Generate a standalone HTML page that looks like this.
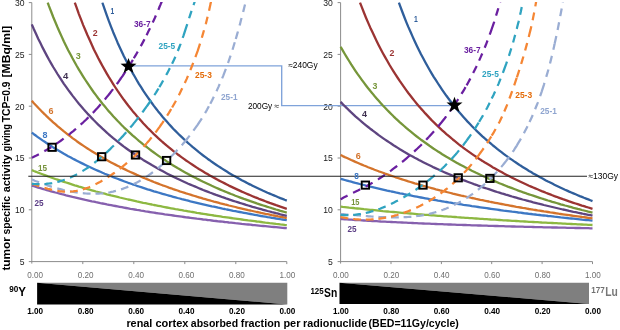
<!DOCTYPE html>
<html><head><meta charset="utf-8"><title>chart</title><style>html,body{margin:0;padding:0;background:#fff}body{width:620px;height:330px;overflow:hidden}</style></head><body>
<svg width="620" height="330" viewBox="0 0 620 330" style="display:block;font-family:'Liberation Sans',sans-serif;will-change:transform;-webkit-font-smoothing:antialiased">
<rect width="620" height="330" fill="#fff"/>
<defs><clipPath id="cp"><rect x="0" y="2" width="620" height="262"/></clipPath></defs>
<path d="M31.8,2.6 V263.6 M28.8,261.6 H286.8" stroke="#8c8c8c" stroke-width="1" fill="none"/>
<path d="M28.8,2.6 H31.8" stroke="#8c8c8c" stroke-width="1"/>
<path d="M28.8,54.4 H31.8" stroke="#8c8c8c" stroke-width="1"/>
<path d="M28.8,106.2 H31.8" stroke="#8c8c8c" stroke-width="1"/>
<path d="M28.8,158.0 H31.8" stroke="#8c8c8c" stroke-width="1"/>
<path d="M28.8,209.8 H31.8" stroke="#8c8c8c" stroke-width="1"/>
<path d="M82.8,261.6 V264.1" stroke="#8c8c8c" stroke-width="1"/>
<path d="M133.8,261.6 V264.1" stroke="#8c8c8c" stroke-width="1"/>
<path d="M184.8,261.6 V264.1" stroke="#8c8c8c" stroke-width="1"/>
<path d="M235.8,261.6 V264.1" stroke="#8c8c8c" stroke-width="1"/>
<path d="M286.8,261.6 V264.1" stroke="#8c8c8c" stroke-width="1"/>
<text x="24.6" y="6.0" font-size="8.6" text-anchor="end" fill="#1a1a1a">30</text>
<text x="24.6" y="57.8" font-size="8.6" text-anchor="end" fill="#1a1a1a">25</text>
<text x="24.6" y="109.6" font-size="8.6" text-anchor="end" fill="#1a1a1a">20</text>
<text x="24.6" y="161.4" font-size="8.6" text-anchor="end" fill="#1a1a1a">15</text>
<text x="24.6" y="213.2" font-size="8.6" text-anchor="end" fill="#1a1a1a">10</text>
<text x="24.6" y="265.0" font-size="8.6" text-anchor="end" fill="#1a1a1a">5</text>
<path d="M340.6,2.6 V263.6 M337.6,261.6 H592.5" stroke="#8c8c8c" stroke-width="1" fill="none"/>
<path d="M337.6,2.6 H340.6" stroke="#8c8c8c" stroke-width="1"/>
<path d="M337.6,54.4 H340.6" stroke="#8c8c8c" stroke-width="1"/>
<path d="M337.6,106.2 H340.6" stroke="#8c8c8c" stroke-width="1"/>
<path d="M337.6,158.0 H340.6" stroke="#8c8c8c" stroke-width="1"/>
<path d="M337.6,209.8 H340.6" stroke="#8c8c8c" stroke-width="1"/>
<path d="M391.0,261.6 V264.1" stroke="#8c8c8c" stroke-width="1"/>
<path d="M441.4,261.6 V264.1" stroke="#8c8c8c" stroke-width="1"/>
<path d="M491.7,261.6 V264.1" stroke="#8c8c8c" stroke-width="1"/>
<path d="M542.1,261.6 V264.1" stroke="#8c8c8c" stroke-width="1"/>
<path d="M592.5,261.6 V264.1" stroke="#8c8c8c" stroke-width="1"/>
<text x="332.7" y="6.0" font-size="8.6" text-anchor="end" fill="#1a1a1a">30</text>
<text x="332.7" y="57.8" font-size="8.6" text-anchor="end" fill="#1a1a1a">25</text>
<text x="332.7" y="109.6" font-size="8.6" text-anchor="end" fill="#1a1a1a">20</text>
<text x="332.7" y="161.4" font-size="8.6" text-anchor="end" fill="#1a1a1a">15</text>
<text x="332.7" y="213.2" font-size="8.6" text-anchor="end" fill="#1a1a1a">10</text>
<text x="332.7" y="265.0" font-size="8.6" text-anchor="end" fill="#1a1a1a">5</text>
<text x="35.2" y="278.4" font-size="8.6" text-anchor="middle" fill="#6f6f6f" textLength="15.8" lengthAdjust="spacingAndGlyphs">0.00</text>
<text x="340.9" y="278.4" font-size="8.6" text-anchor="middle" fill="#6f6f6f" textLength="15.8" lengthAdjust="spacingAndGlyphs">0.00</text>
<text x="85.6" y="278.4" font-size="8.6" text-anchor="middle" fill="#6f6f6f" textLength="15.8" lengthAdjust="spacingAndGlyphs">0.20</text>
<text x="391.3" y="278.4" font-size="8.6" text-anchor="middle" fill="#6f6f6f" textLength="15.8" lengthAdjust="spacingAndGlyphs">0.20</text>
<text x="136.1" y="278.4" font-size="8.6" text-anchor="middle" fill="#6f6f6f" textLength="15.8" lengthAdjust="spacingAndGlyphs">0.40</text>
<text x="441.7" y="278.4" font-size="8.6" text-anchor="middle" fill="#6f6f6f" textLength="15.8" lengthAdjust="spacingAndGlyphs">0.40</text>
<text x="186.5" y="278.4" font-size="8.6" text-anchor="middle" fill="#6f6f6f" textLength="15.8" lengthAdjust="spacingAndGlyphs">0.60</text>
<text x="492.2" y="278.4" font-size="8.6" text-anchor="middle" fill="#6f6f6f" textLength="15.8" lengthAdjust="spacingAndGlyphs">0.60</text>
<text x="237.0" y="278.4" font-size="8.6" text-anchor="middle" fill="#6f6f6f" textLength="15.8" lengthAdjust="spacingAndGlyphs">0.80</text>
<text x="542.6" y="278.4" font-size="8.6" text-anchor="middle" fill="#6f6f6f" textLength="15.8" lengthAdjust="spacingAndGlyphs">0.80</text>
<text x="287.4" y="278.4" font-size="8.6" text-anchor="middle" fill="#6f6f6f" textLength="15.8" lengthAdjust="spacingAndGlyphs">1.00</text>
<text x="593.0" y="278.4" font-size="8.6" text-anchor="middle" fill="#6f6f6f" textLength="15.8" lengthAdjust="spacingAndGlyphs">1.00</text>
<text x="35.2" y="314.1" font-size="8.8" font-weight="bold" text-anchor="middle" fill="#000" textLength="15.9" lengthAdjust="spacingAndGlyphs">1.00</text>
<text x="340.9" y="314.1" font-size="8.8" font-weight="bold" text-anchor="middle" fill="#000" textLength="15.9" lengthAdjust="spacingAndGlyphs">1.00</text>
<text x="85.6" y="314.1" font-size="8.8" font-weight="bold" text-anchor="middle" fill="#000" textLength="15.9" lengthAdjust="spacingAndGlyphs">0.80</text>
<text x="391.3" y="314.1" font-size="8.8" font-weight="bold" text-anchor="middle" fill="#000" textLength="15.9" lengthAdjust="spacingAndGlyphs">0.80</text>
<text x="136.1" y="314.1" font-size="8.8" font-weight="bold" text-anchor="middle" fill="#000" textLength="15.9" lengthAdjust="spacingAndGlyphs">0.60</text>
<text x="441.7" y="314.1" font-size="8.8" font-weight="bold" text-anchor="middle" fill="#000" textLength="15.9" lengthAdjust="spacingAndGlyphs">0.60</text>
<text x="186.5" y="314.1" font-size="8.8" font-weight="bold" text-anchor="middle" fill="#000" textLength="15.9" lengthAdjust="spacingAndGlyphs">0.40</text>
<text x="492.2" y="314.1" font-size="8.8" font-weight="bold" text-anchor="middle" fill="#000" textLength="15.9" lengthAdjust="spacingAndGlyphs">0.40</text>
<text x="237.0" y="314.1" font-size="8.8" font-weight="bold" text-anchor="middle" fill="#000" textLength="15.9" lengthAdjust="spacingAndGlyphs">0.20</text>
<text x="542.6" y="314.1" font-size="8.8" font-weight="bold" text-anchor="middle" fill="#000" textLength="15.9" lengthAdjust="spacingAndGlyphs">0.20</text>
<text x="287.4" y="314.1" font-size="8.8" font-weight="bold" text-anchor="middle" fill="#000" textLength="15.9" lengthAdjust="spacingAndGlyphs">0.00</text>
<text x="593.0" y="314.1" font-size="8.8" font-weight="bold" text-anchor="middle" fill="#000" textLength="15.9" lengthAdjust="spacingAndGlyphs">0.00</text>
<path d="M128.5,65.9 H281.7 V105.6 H454.5" stroke="#7fa3da" stroke-width="1.35" fill="none"/>
<path d="M31.8,185.6 L33.9,186.2 L36.1,186.9 L38.2,187.6 L40.4,188.2 L42.5,188.8 L44.7,189.5 L46.8,190.1 L48.9,190.7 L51.1,191.3 L53.2,191.9 L55.4,192.5 L57.5,193.0 L59.7,193.6 L61.8,194.2 L63.9,194.7 L66.1,195.3 L68.2,195.8 L70.4,196.3 L72.5,196.9 L74.7,197.4 L76.8,197.9 L78.9,198.4 L81.1,198.9 L83.2,199.4 L85.4,199.9 L87.5,200.3 L89.7,200.8 L91.8,201.3 L93.9,201.7 L96.1,202.2 L98.2,202.6 L100.4,203.1 L102.5,203.5 L104.7,203.9 L106.8,204.4 L108.9,204.8 L111.1,205.2 L113.2,205.6 L115.4,206.0 L117.5,206.4 L119.7,206.8 L121.8,207.2 L123.9,207.6 L126.1,208.0 L128.2,208.4 L130.4,208.8 L132.5,209.1 L134.7,209.5 L136.8,209.9 L138.9,210.2 L141.1,210.6 L143.2,210.9 L145.4,211.3 L147.5,211.6 L149.7,212.0 L151.8,212.3 L153.9,212.6 L156.1,213.0 L158.2,213.3 L160.4,213.6 L162.5,213.9 L164.7,214.3 L166.8,214.6 L168.9,214.9 L171.1,215.2 L173.2,215.5 L175.4,215.8 L177.5,216.1 L179.7,216.4 L181.8,216.7 L183.9,217.0 L186.1,217.3 L188.2,217.5 L190.4,217.8 L192.5,218.1 L194.7,218.4 L196.8,218.7 L198.9,218.9 L201.1,219.2 L203.2,219.5 L205.4,219.7 L207.5,220.0 L209.7,220.2 L211.8,220.5 L213.9,220.8 L216.1,221.0 L218.2,221.3 L220.4,221.5 L222.5,221.7 L224.7,222.0 L226.8,222.2 L228.9,222.5 L231.1,222.7 L233.2,222.9 L235.4,223.2 L237.5,223.4 L239.7,223.6 L241.8,223.9 L243.9,224.1 L246.1,224.3 L248.2,224.5 L250.4,224.7 L252.5,225.0 L254.7,225.2 L256.8,225.4 L258.9,225.6 L261.1,225.8 L263.2,226.0 L265.4,226.2 L267.5,226.4 L269.7,226.6 L271.8,226.8 L273.9,227.0 L276.1,227.2 L278.2,227.4 L280.4,227.6 L282.5,227.8 L284.7,228.0 L286.8,228.2" stroke="#8660AE" stroke-width="2.3" fill="none" stroke-linejoin="round"/>
<path d="M31.8,170.1 L33.9,171.0 L36.1,171.8 L38.2,172.7 L40.4,173.5 L42.5,174.3 L44.7,175.1 L46.8,175.9 L48.9,176.7 L51.1,177.4 L53.2,178.2 L55.4,179.0 L57.5,179.7 L59.7,180.4 L61.8,181.1 L63.9,181.8 L66.1,182.5 L68.2,183.2 L70.4,183.9 L72.5,184.6 L74.7,185.3 L76.8,185.9 L78.9,186.6 L81.1,187.2 L83.2,187.8 L85.4,188.5 L87.5,189.1 L89.7,189.7 L91.8,190.3 L93.9,190.9 L96.1,191.5 L98.2,192.0 L100.4,192.6 L102.5,193.2 L104.7,193.7 L106.8,194.3 L108.9,194.8 L111.1,195.4 L113.2,195.9 L115.4,196.4 L117.5,196.9 L119.7,197.5 L121.8,198.0 L123.9,198.5 L126.1,199.0 L128.2,199.5 L130.4,199.9 L132.5,200.4 L134.7,200.9 L136.8,201.4 L138.9,201.8 L141.1,202.3 L143.2,202.8 L145.4,203.2 L147.5,203.7 L149.7,204.1 L151.8,204.5 L153.9,205.0 L156.1,205.4 L158.2,205.8 L160.4,206.2 L162.5,206.7 L164.7,207.1 L166.8,207.5 L168.9,207.9 L171.1,208.3 L173.2,208.7 L175.4,209.1 L177.5,209.4 L179.7,209.8 L181.8,210.2 L183.9,210.6 L186.1,210.9 L188.2,211.3 L190.4,211.7 L192.5,212.0 L194.7,212.4 L196.8,212.8 L198.9,213.1 L201.1,213.5 L203.2,213.8 L205.4,214.1 L207.5,214.5 L209.7,214.8 L211.8,215.1 L213.9,215.5 L216.1,215.8 L218.2,216.1 L220.4,216.4 L222.5,216.8 L224.7,217.1 L226.8,217.4 L228.9,217.7 L231.1,218.0 L233.2,218.3 L235.4,218.6 L237.5,218.9 L239.7,219.2 L241.8,219.5 L243.9,219.8 L246.1,220.1 L248.2,220.4 L250.4,220.6 L252.5,220.9 L254.7,221.2 L256.8,221.5 L258.9,221.7 L261.1,222.0 L263.2,222.3 L265.4,222.6 L267.5,222.8 L269.7,223.1 L271.8,223.3 L273.9,223.6 L276.1,223.9 L278.2,224.1 L280.4,224.4 L282.5,224.6 L284.7,224.9 L286.8,225.1" stroke="#8DB842" stroke-width="2.3" fill="none" stroke-linejoin="round"/>
<path d="M31.8,132.6 L33.9,134.2 L36.1,135.8 L38.2,137.4 L40.4,138.9 L42.5,140.4 L44.7,141.8 L46.8,143.2 L48.9,144.6 L51.1,146.0 L53.2,147.4 L55.4,148.7 L57.5,150.0 L59.7,151.3 L61.8,152.5 L63.9,153.8 L66.1,155.0 L68.2,156.2 L70.4,157.3 L72.5,158.5 L74.7,159.6 L76.8,160.7 L78.9,161.8 L81.1,162.9 L83.2,163.9 L85.4,165.0 L87.5,166.0 L89.7,167.0 L91.8,168.0 L93.9,169.0 L96.1,170.0 L98.2,170.9 L100.4,171.8 L102.5,172.8 L104.7,173.7 L106.8,174.5 L108.9,175.4 L111.1,176.3 L113.2,177.1 L115.4,178.0 L117.5,178.8 L119.7,179.6 L121.8,180.4 L123.9,181.2 L126.1,182.0 L128.2,182.8 L130.4,183.5 L132.5,184.3 L134.7,185.0 L136.8,185.8 L138.9,186.5 L141.1,187.2 L143.2,187.9 L145.4,188.6 L147.5,189.3 L149.7,189.9 L151.8,190.6 L153.9,191.3 L156.1,191.9 L158.2,192.5 L160.4,193.2 L162.5,193.8 L164.7,194.4 L166.8,195.0 L168.9,195.6 L171.1,196.2 L173.2,196.8 L175.4,197.4 L177.5,198.0 L179.7,198.5 L181.8,199.1 L183.9,199.6 L186.1,200.2 L188.2,200.7 L190.4,201.3 L192.5,201.8 L194.7,202.3 L196.8,202.8 L198.9,203.3 L201.1,203.8 L203.2,204.3 L205.4,204.8 L207.5,205.3 L209.7,205.8 L211.8,206.3 L213.9,206.7 L216.1,207.2 L218.2,207.7 L220.4,208.1 L222.5,208.6 L224.7,209.0 L226.8,209.5 L228.9,209.9 L231.1,210.3 L233.2,210.8 L235.4,211.2 L237.5,211.6 L239.7,212.0 L241.8,212.4 L243.9,212.8 L246.1,213.2 L248.2,213.6 L250.4,214.0 L252.5,214.4 L254.7,214.8 L256.8,215.2 L258.9,215.6 L261.1,216.0 L263.2,216.3 L265.4,216.7 L267.5,217.1 L269.7,217.4 L271.8,217.8 L273.9,218.1 L276.1,218.5 L278.2,218.8 L280.4,219.2 L282.5,219.5 L284.7,219.9 L286.8,220.2" stroke="#3D78C4" stroke-width="2.3" fill="none" stroke-linejoin="round"/>
<path d="M31.8,100.8 L33.9,103.2 L36.1,105.5 L38.2,107.8 L40.4,110.0 L42.5,112.2 L44.7,114.3 L46.8,116.4 L48.9,118.4 L51.1,120.4 L53.2,122.3 L55.4,124.2 L57.5,126.1 L59.7,127.9 L61.8,129.7 L63.9,131.4 L66.1,133.1 L68.2,134.8 L70.4,136.4 L72.5,138.1 L74.7,139.6 L76.8,141.2 L78.9,142.7 L81.1,144.2 L83.2,145.6 L85.4,147.1 L87.5,148.5 L89.7,149.9 L91.8,151.2 L93.9,152.5 L96.1,153.8 L98.2,155.1 L100.4,156.4 L102.5,157.6 L104.7,158.8 L106.8,160.0 L108.9,161.2 L111.1,162.4 L113.2,163.5 L115.4,164.6 L117.5,165.7 L119.7,166.8 L121.8,167.9 L123.9,168.9 L126.1,169.9 L128.2,171.0 L130.4,172.0 L132.5,172.9 L134.7,173.9 L136.8,174.9 L138.9,175.8 L141.1,176.7 L143.2,177.6 L145.4,178.5 L147.5,179.4 L149.7,180.3 L151.8,181.1 L153.9,182.0 L156.1,182.8 L158.2,183.6 L160.4,184.5 L162.5,185.3 L164.7,186.0 L166.8,186.8 L168.9,187.6 L171.1,188.3 L173.2,189.1 L175.4,189.8 L177.5,190.5 L179.7,191.3 L181.8,192.0 L183.9,192.7 L186.1,193.4 L188.2,194.0 L190.4,194.7 L192.5,195.4 L194.7,196.0 L196.8,196.7 L198.9,197.3 L201.1,197.9 L203.2,198.6 L205.4,199.2 L207.5,199.8 L209.7,200.4 L211.8,201.0 L213.9,201.6 L216.1,202.1 L218.2,202.7 L220.4,203.3 L222.5,203.8 L224.7,204.4 L226.8,204.9 L228.9,205.5 L231.1,206.0 L233.2,206.5 L235.4,207.0 L237.5,207.6 L239.7,208.1 L241.8,208.6 L243.9,209.1 L246.1,209.6 L248.2,210.1 L250.4,210.5 L252.5,211.0 L254.7,211.5 L256.8,212.0 L258.9,212.4 L261.1,212.9 L263.2,213.3 L265.4,213.8 L267.5,214.2 L269.7,214.6 L271.8,215.1 L273.9,215.5 L276.1,215.9 L278.2,216.4 L280.4,216.8 L282.5,217.2 L284.7,217.6 L286.8,218.0" stroke="#D4742C" stroke-width="2.3" fill="none" stroke-linejoin="round"/>
<path d="M31.8,24.4 L33.9,29.3 L36.1,34.1 L38.2,38.7 L40.4,43.1 L42.5,47.4 L44.7,51.6 L46.8,55.6 L48.9,59.5 L51.1,63.3 L53.2,67.0 L55.4,70.5 L57.5,74.0 L59.7,77.4 L61.8,80.6 L63.9,83.8 L66.1,86.9 L68.2,89.9 L70.4,92.8 L72.5,95.6 L74.7,98.4 L76.8,101.1 L78.9,103.7 L81.1,106.3 L83.2,108.8 L85.4,111.2 L87.5,113.6 L89.7,115.9 L91.8,118.1 L93.9,120.3 L96.1,122.5 L98.2,124.6 L100.4,126.7 L102.5,128.7 L104.7,130.7 L106.8,132.6 L108.9,134.5 L111.1,136.3 L113.2,138.1 L115.4,139.9 L117.5,141.6 L119.7,143.3 L121.8,145.0 L123.9,146.6 L126.1,148.2 L128.2,149.7 L130.4,151.3 L132.5,152.8 L134.7,154.2 L136.8,155.7 L138.9,157.1 L141.1,158.5 L143.2,159.9 L145.4,161.2 L147.5,162.5 L149.7,163.8 L151.8,165.1 L153.9,166.3 L156.1,167.6 L158.2,168.8 L160.4,169.9 L162.5,171.1 L164.7,172.3 L166.8,173.4 L168.9,174.5 L171.1,175.6 L173.2,176.6 L175.4,177.7 L177.5,178.7 L179.7,179.7 L181.8,180.7 L183.9,181.7 L186.1,182.7 L188.2,183.7 L190.4,184.6 L192.5,185.5 L194.7,186.4 L196.8,187.3 L198.9,188.2 L201.1,189.1 L203.2,190.0 L205.4,190.8 L207.5,191.6 L209.7,192.5 L211.8,193.3 L213.9,194.1 L216.1,194.9 L218.2,195.6 L220.4,196.4 L222.5,197.2 L224.7,197.9 L226.8,198.7 L228.9,199.4 L231.1,200.1 L233.2,200.8 L235.4,201.5 L237.5,202.2 L239.7,202.9 L241.8,203.5 L243.9,204.2 L246.1,204.9 L248.2,205.5 L250.4,206.1 L252.5,206.8 L254.7,207.4 L256.8,208.0 L258.9,208.6 L261.1,209.2 L263.2,209.8 L265.4,210.4 L267.5,211.0 L269.7,211.5 L271.8,212.1 L273.9,212.6 L276.1,213.2 L278.2,213.7 L280.4,214.3 L282.5,214.8 L284.7,215.3 L286.8,215.9" stroke="#5E4580" stroke-width="2.3" fill="none" stroke-linejoin="round"/>
<path d="M47.7,2.6 L48.9,5.9 L51.1,11.5 L53.2,17.0 L55.4,22.2 L57.5,27.3 L59.7,32.2 L61.8,36.9 L63.9,41.5 L66.1,45.9 L68.2,50.2 L70.4,54.3 L72.5,58.3 L74.7,62.2 L76.8,66.0 L78.9,69.6 L81.1,73.2 L83.2,76.6 L85.4,80.0 L87.5,83.2 L89.7,86.4 L91.8,89.5 L93.9,92.5 L96.1,95.4 L98.2,98.2 L100.4,101.0 L102.5,103.7 L104.7,106.3 L106.8,108.9 L108.9,111.4 L111.1,113.8 L113.2,116.2 L115.4,118.5 L117.5,120.8 L119.7,123.0 L121.8,125.2 L123.9,127.3 L126.1,129.3 L128.2,131.4 L130.4,133.3 L132.5,135.3 L134.7,137.2 L136.8,139.0 L138.9,140.8 L141.1,142.6 L143.2,144.3 L145.4,146.0 L147.5,147.7 L149.7,149.4 L151.8,151.0 L153.9,152.5 L156.1,154.1 L158.2,155.6 L160.4,157.1 L162.5,158.5 L164.7,159.9 L166.8,161.4 L168.9,162.7 L171.1,164.1 L173.2,165.4 L175.4,166.7 L177.5,168.0 L179.7,169.2 L181.8,170.5 L183.9,171.7 L186.1,172.9 L188.2,174.1 L190.4,175.2 L192.5,176.4 L194.7,177.5 L196.8,178.6 L198.9,179.6 L201.1,180.7 L203.2,181.8 L205.4,182.8 L207.5,183.8 L209.7,184.8 L211.8,185.8 L213.9,186.7 L216.1,187.7 L218.2,188.6 L220.4,189.6 L222.5,190.5 L224.7,191.4 L226.8,192.2 L228.9,193.1 L231.1,194.0 L233.2,194.8 L235.4,195.7 L237.5,196.5 L239.7,197.3 L241.8,198.1 L243.9,198.9 L246.1,199.6 L248.2,200.4 L250.4,201.2 L252.5,201.9 L254.7,202.6 L256.8,203.4 L258.9,204.1 L261.1,204.8 L263.2,205.5 L265.4,206.2 L267.5,206.9 L269.7,207.5 L271.8,208.2 L273.9,208.8 L276.1,209.5 L278.2,210.1 L280.4,210.8 L282.5,211.4 L284.7,212.0 L286.8,212.6" stroke="#76963A" stroke-width="2.3" fill="none" stroke-linejoin="round"/>
<path d="M74.8,2.6 L76.8,8.2 L78.9,14.1 L81.1,19.7 L83.2,25.1 L85.4,30.3 L87.5,35.3 L89.7,40.1 L91.8,44.8 L93.9,49.4 L96.1,53.7 L98.2,58.0 L100.4,62.1 L102.5,66.0 L104.7,69.9 L106.8,73.6 L108.9,77.2 L111.1,80.7 L113.2,84.1 L115.4,87.5 L117.5,90.7 L119.7,93.8 L121.8,96.8 L123.9,99.8 L126.1,102.7 L128.2,105.5 L130.4,108.2 L132.5,110.9 L134.7,113.4 L136.8,116.0 L138.9,118.4 L141.1,120.8 L143.2,123.2 L145.4,125.5 L147.5,127.7 L149.7,129.9 L151.8,132.0 L153.9,134.1 L156.1,136.1 L158.2,138.1 L160.4,140.1 L162.5,142.0 L164.7,143.8 L166.8,145.7 L168.9,147.4 L171.1,149.2 L173.2,150.9 L175.4,152.6 L177.5,154.2 L179.7,155.8 L181.8,157.4 L183.9,158.9 L186.1,160.5 L188.2,161.9 L190.4,163.4 L192.5,164.8 L194.7,166.2 L196.8,167.6 L198.9,169.0 L201.1,170.3 L203.2,171.6 L205.4,172.9 L207.5,174.1 L209.7,175.4 L211.8,176.6 L213.9,177.8 L216.1,178.9 L218.2,180.1 L220.4,181.2 L222.5,182.3 L224.7,183.4 L226.8,184.5 L228.9,185.6 L231.1,186.6 L233.2,187.6 L235.4,188.6 L237.5,189.6 L239.7,190.6 L241.8,191.6 L243.9,192.5 L246.1,193.5 L248.2,194.4 L250.4,195.3 L252.5,196.2 L254.7,197.1 L256.8,197.9 L258.9,198.8 L261.1,199.6 L263.2,200.4 L265.4,201.3 L267.5,202.1 L269.7,202.9 L271.8,203.6 L273.9,204.4 L276.1,205.2 L278.2,205.9 L280.4,206.7 L282.5,207.4 L284.7,208.1 L286.8,208.8" stroke="#9B3433" stroke-width="2.3" fill="none" stroke-linejoin="round"/>
<path d="M102.4,2.6 L102.5,3.0 L104.7,9.4 L106.8,15.4 L108.9,21.2 L111.1,26.8 L113.2,32.2 L115.4,37.4 L117.5,42.4 L119.7,47.2 L121.8,51.8 L123.9,56.3 L126.1,60.6 L128.2,64.8 L130.4,68.8 L132.5,72.8 L134.7,76.5 L136.8,80.2 L138.9,83.8 L141.1,87.2 L143.2,90.6 L145.4,93.8 L147.5,96.9 L149.7,100.0 L151.8,103.0 L153.9,105.9 L156.1,108.7 L158.2,111.4 L160.4,114.1 L162.5,116.7 L164.7,119.2 L166.8,121.6 L168.9,124.0 L171.1,126.4 L173.2,128.7 L175.4,130.9 L177.5,133.0 L179.7,135.2 L181.8,137.2 L183.9,139.2 L186.1,141.2 L188.2,143.1 L190.4,145.0 L192.5,146.9 L194.7,148.7 L196.8,150.4 L198.9,152.1 L201.1,153.8 L203.2,155.5 L205.4,157.1 L207.5,158.7 L209.7,160.2 L211.8,161.8 L213.9,163.2 L216.1,164.7 L218.2,166.1 L220.4,167.5 L222.5,168.9 L224.7,170.3 L226.8,171.6 L228.9,172.9 L231.1,174.2 L233.2,175.4 L235.4,176.6 L237.5,177.8 L239.7,179.0 L241.8,180.2 L243.9,181.3 L246.1,182.4 L248.2,183.6 L250.4,184.6 L252.5,185.7 L254.7,186.8 L256.8,187.8 L258.9,188.8 L261.1,189.8 L263.2,190.8 L265.4,191.7 L267.5,192.7 L269.7,193.6 L271.8,194.5 L273.9,195.4 L276.1,196.3 L278.2,197.2 L280.4,198.1 L282.5,198.9 L284.7,199.8 L286.8,200.6" stroke="#2F5E9B" stroke-width="2.3" fill="none" stroke-linejoin="round"/>
<path d="M31.8,179.5 33.2,180.0 34.7,180.7 36.2,181.3 37.7,181.8 39.3,182.4 40.8,183.0 42.4,183.6 43.9,184.1 44.5,184.3 M44.5,184.3 46.0,184.8 47.5,185.4 49.1,185.9 50.6,186.4 52.2,186.9 53.8,187.3 55.4,187.8 56.9,188.3 57.3,188.4 M57.3,188.4 58.8,188.8 60.4,189.2 62.0,189.6 63.5,190.0 65.1,190.3 66.7,190.7 68.4,191.0 70.0,191.4 70.0,191.4 M70.0,191.4 71.6,191.7 73.2,191.9 74.8,192.2 76.4,192.5 78.1,192.7 79.7,192.9 81.3,193.1 82.8,193.2 M82.8,193.2 84.3,193.3 85.9,193.5 87.6,193.6 89.2,193.6 90.9,193.7 92.5,193.7 94.1,193.7 95.5,193.7 M95.5,193.7 97.1,193.6 98.8,193.6 100.4,193.5 102.1,193.3 103.7,193.2 105.3,193.0 106.9,192.7 108.3,192.5 M108.3,192.5 109.9,192.3 111.5,191.9 113.1,191.6 114.7,191.2 116.3,190.8 117.9,190.4 119.5,189.9 121.0,189.4 121.0,189.4 M121.0,189.4 122.6,188.9 124.1,188.3 125.6,187.7 127.2,187.1 128.7,186.5 130.2,185.8 131.7,185.1 133.1,184.4 133.8,184.1 M133.8,184.1 135.3,183.3 137.0,182.4 138.7,181.5 140.4,180.5 142.0,179.5 143.6,178.5 145.2,177.5 146.6,176.6 M146.6,176.6 148.0,175.7 149.5,174.6 151.1,173.5 152.6,172.3 154.2,171.2 155.7,170.0 157.2,168.8 158.7,167.6 159.3,167.1 M159.3,167.1 161.0,165.7 162.6,164.2 164.3,162.8 165.9,161.3 167.5,159.9 169.1,158.4 170.7,156.8 172.1,155.5 M172.1,155.5 173.6,154.0 175.1,152.4 176.6,150.8 178.1,149.2 179.6,147.6 181.1,146.0 182.5,144.4 183.9,142.7 184.8,141.7 M184.8,141.7 186.4,139.8 188.1,137.6 189.8,135.5 191.5,133.3 193.1,131.1 194.7,128.9 196.3,126.7 197.6,124.9 M197.6,124.9 199.2,122.4 200.9,119.9 202.5,117.3 204.0,114.8 205.6,112.2 207.1,109.6 208.5,106.9 210.0,104.3 210.3,103.7 M210.3,103.7 212.0,100.4 213.7,97.0 215.4,93.6 217.0,90.1 218.6,86.6 220.1,83.1 221.6,79.6 223.1,76.1 M223.1,76.1 224.8,71.7 226.5,67.1 228.2,62.5 229.8,57.8 231.4,53.2 232.9,48.5 234.3,43.8 235.8,39.1 235.8,39.0 M235.8,39.0 237.1,34.4 238.5,29.6 239.8,24.9 241.0,20.1 242.3,15.3 243.5,10.6 244.7,5.8 245.9,1.0 246.0,0.5" stroke="#9AADD3" stroke-width="2.25" fill="none" stroke-dasharray="7.8 6.2" stroke-linejoin="round" clip-path="url(#cp)"/>
<path d="M31.8,183.8 33.2,184.3 34.8,184.8 36.4,185.3 38.0,185.9 39.6,186.4 41.3,186.9 42.9,187.4 44.5,187.9 44.5,187.9 M44.5,187.9 46.2,188.3 47.8,188.8 49.4,189.2 51.1,189.6 52.7,190.0 54.4,190.3 56.1,190.7 57.3,190.9 M57.3,190.9 58.7,191.1 60.2,191.3 61.6,191.4 63.1,191.6 64.5,191.7 66.0,191.7 67.4,191.7 68.9,191.7 70.0,191.7 M70.0,191.7 71.5,191.5 73.2,191.4 74.9,191.1 76.6,190.9 78.3,190.5 79.9,190.2 81.6,189.7 82.8,189.4 M82.8,189.4 84.4,188.9 86.0,188.3 87.6,187.8 89.1,187.2 90.7,186.5 92.3,185.8 93.8,185.1 95.3,184.4 95.5,184.3 M95.5,184.3 96.9,183.6 98.4,182.8 99.9,182.0 101.3,181.2 102.8,180.3 104.3,179.5 105.7,178.6 107.2,177.7 108.3,176.9 M108.3,176.9 109.8,176.0 111.4,174.9 113.0,173.8 114.6,172.7 116.2,171.5 117.7,170.4 119.3,169.2 120.8,168.0 121.0,167.8 M121.0,167.8 122.5,166.6 124.0,165.4 125.5,164.2 127.0,162.9 128.5,161.6 129.9,160.3 131.4,159.0 132.8,157.7 133.8,156.8 M133.8,156.8 135.3,155.4 136.8,153.8 138.4,152.3 139.9,150.7 141.4,149.1 142.9,147.5 144.3,145.9 145.8,144.3 146.6,143.4 M146.6,143.4 148.0,141.7 149.6,139.9 151.1,138.0 152.6,136.1 154.1,134.2 155.6,132.3 157.1,130.3 158.5,128.4 159.3,127.3 M159.3,127.3 160.9,125.0 162.6,122.6 164.2,120.2 165.8,117.8 167.3,115.3 168.9,112.8 170.4,110.3 171.9,107.8 172.1,107.5 M172.1,107.5 173.7,104.7 175.4,101.7 177.0,98.7 178.6,95.7 180.1,92.7 181.6,89.6 183.1,86.6 184.6,83.5 184.8,83.0 M184.8,83.0 186.6,79.1 188.3,75.1 190.0,71.1 191.6,67.0 193.2,62.9 194.8,58.8 196.3,54.7 197.6,51.1 M197.6,51.1 199.4,45.6 201.2,40.0 202.8,34.4 204.4,28.8 206.0,23.2 207.4,17.5 208.8,11.9 210.0,6.2 210.3,4.9 M210.3,4.9 210.4,4.5 210.5,4.1 210.6,3.6 210.7,3.1 210.8,2.6 210.9,2.2 211.0,1.7 211.1,1.2 211.2,0.7 211.2,0.5" stroke="#F58634" stroke-width="2.25" fill="none" stroke-dasharray="7.8 6.2" stroke-linejoin="round" clip-path="url(#cp)"/>
<path d="M31.8,183.8 33.2,183.9 34.7,184.0 36.3,184.1 37.8,184.2 39.3,184.2 40.9,184.2 42.4,184.1 43.9,184.0 44.5,184.0 M44.5,184.0 45.9,183.9 47.4,183.7 48.9,183.5 50.4,183.3 51.9,183.1 53.5,182.8 55.0,182.5 56.4,182.1 57.3,181.9 M57.3,181.9 58.8,181.6 60.3,181.1 61.7,180.7 63.2,180.2 64.6,179.7 66.1,179.2 67.5,178.7 68.9,178.1 70.0,177.6 M70.0,177.6 71.5,177.0 73.1,176.2 74.7,175.4 76.2,174.7 77.8,173.8 79.3,173.0 80.8,172.1 82.3,171.2 82.8,170.9 M82.8,170.9 84.4,169.9 86.0,168.9 87.7,167.8 89.3,166.6 90.9,165.5 92.5,164.3 94.0,163.1 95.5,162.0 M95.5,162.0 97.1,160.7 98.8,159.3 100.5,157.9 102.1,156.5 103.8,155.0 105.4,153.6 107.0,152.1 108.3,150.9 M108.3,150.9 109.9,149.4 111.4,147.8 113.0,146.3 114.6,144.8 116.1,143.2 117.6,141.6 119.1,140.0 120.6,138.5 121.0,138.0 M121.0,138.0 122.6,136.4 124.2,134.6 125.8,132.8 127.4,131.0 129.0,129.2 130.5,127.3 132.1,125.5 133.6,123.6 133.8,123.4 M133.8,123.4 135.4,121.4 137.0,119.4 138.6,117.3 140.2,115.2 141.8,113.1 143.4,111.0 144.9,108.9 146.5,106.8 146.6,106.7 M146.6,106.7 148.1,104.5 149.7,102.1 151.3,99.8 152.9,97.4 154.4,95.0 156.0,92.6 157.5,90.2 158.9,87.8 159.3,87.2 M159.3,87.2 161.0,84.4 162.6,81.5 164.2,78.7 165.8,75.8 167.4,72.9 168.9,70.0 170.4,67.1 171.9,64.2 172.1,63.8 M172.1,63.8 173.9,60.0 175.7,56.0 177.4,52.0 179.0,48.0 180.6,43.9 182.0,39.7 183.5,35.6 184.8,31.6 M184.8,31.6 186.1,27.7 187.4,23.8 188.6,19.8 189.9,15.8 191.2,11.9 192.5,8.0 193.9,4.0 195.1,0.5" stroke="#2FA3C0" stroke-width="2.25" fill="none" stroke-dasharray="7.8 6.2" stroke-linejoin="round" clip-path="url(#cp)"/>
<path d="M31.9,157.8 33.4,157.1 34.9,156.3 36.5,155.5 38.0,154.7 39.6,153.9 41.1,153.1 42.6,152.2 44.1,151.4 44.5,151.1 M44.5,151.1 46.1,150.2 47.7,149.3 49.4,148.3 51.0,147.2 52.6,146.2 54.2,145.2 55.8,144.1 57.3,143.1 M57.3,143.1 58.8,142.1 60.4,141.0 62.0,139.8 63.5,138.7 65.1,137.6 66.6,136.4 68.1,135.2 69.6,134.1 70.0,133.7 M70.0,133.7 71.6,132.4 73.3,131.1 74.9,129.7 76.5,128.4 78.0,127.0 79.6,125.6 81.1,124.2 82.7,122.8 82.8,122.7 M82.8,122.7 84.3,121.3 86.0,119.7 87.6,118.1 89.2,116.5 90.8,114.9 92.4,113.3 94.0,111.7 95.5,110.0 95.5,110.0 M95.5,110.0 97.2,108.2 98.8,106.4 100.4,104.6 102.0,102.7 103.6,100.9 105.2,99.0 106.7,97.1 108.3,95.2 108.3,95.2 M108.3,95.2 109.9,93.2 111.5,91.1 113.1,89.1 114.7,87.0 116.2,84.9 117.8,82.8 119.3,80.6 120.8,78.5 121.0,78.1 M121.0,78.1 122.7,75.8 124.3,73.3 126.0,70.9 127.6,68.4 129.2,65.9 130.7,63.4 132.3,60.8 133.8,58.3 M133.8,58.3 135.4,55.6 137.1,52.7 138.7,49.9 140.3,47.0 141.9,44.1 143.5,41.1 145.0,38.2 146.5,35.3 146.6,35.2 M146.6,35.2 148.2,31.8 149.9,28.4 151.6,24.9 153.2,21.5 154.8,18.0 156.3,14.5 157.9,11.0 159.3,7.5 M159.3,7.5 159.6,6.8 159.9,6.0 160.3,5.2 160.6,4.4 160.9,3.6 161.3,2.8 161.6,2.0 161.9,1.1 162.2,0.5" stroke="#6A1FA0" stroke-width="2.25" fill="none" stroke-dasharray="7.8 6.2" stroke-linejoin="round" clip-path="url(#cp)"/>
<path d="M340.6,219.0 L342.7,219.1 L344.8,219.3 L347.0,219.4 L349.1,219.6 L351.2,219.7 L353.3,219.8 L355.4,220.0 L357.5,220.1 L359.7,220.2 L361.8,220.4 L363.9,220.5 L366.0,220.6 L368.1,220.8 L370.2,220.9 L372.4,221.0 L374.5,221.1 L376.6,221.2 L378.7,221.3 L380.8,221.5 L382.9,221.6 L385.1,221.7 L387.2,221.8 L389.3,221.9 L391.4,222.0 L393.5,222.1 L395.6,222.2 L397.8,222.3 L399.9,222.4 L402.0,222.5 L404.1,222.6 L406.2,222.7 L408.3,222.8 L410.5,222.9 L412.6,223.0 L414.7,223.1 L416.8,223.2 L418.9,223.3 L421.0,223.4 L423.2,223.5 L425.3,223.6 L427.4,223.6 L429.5,223.7 L431.6,223.8 L433.7,223.9 L435.9,224.0 L438.0,224.1 L440.1,224.1 L442.2,224.2 L444.3,224.3 L446.4,224.4 L448.6,224.5 L450.7,224.5 L452.8,224.6 L454.9,224.7 L457.0,224.8 L459.1,224.8 L461.3,224.9 L463.4,225.0 L465.5,225.0 L467.6,225.1 L469.7,225.2 L471.8,225.3 L474.0,225.3 L476.1,225.4 L478.2,225.5 L480.3,225.5 L482.4,225.6 L484.5,225.7 L486.7,225.7 L488.8,225.8 L490.9,225.9 L493.0,225.9 L495.1,226.0 L497.2,226.0 L499.4,226.1 L501.5,226.2 L503.6,226.2 L505.7,226.3 L507.8,226.3 L509.9,226.4 L512.1,226.5 L514.2,226.5 L516.3,226.6 L518.4,226.6 L520.5,226.7 L522.6,226.7 L524.8,226.8 L526.9,226.8 L529.0,226.9 L531.1,226.9 L533.2,227.0 L535.3,227.1 L537.5,227.1 L539.6,227.2 L541.7,227.2 L543.8,227.3 L545.9,227.3 L548.0,227.4 L550.2,227.4 L552.3,227.5 L554.4,227.5 L556.5,227.5 L558.6,227.6 L560.7,227.6 L562.9,227.7 L565.0,227.7 L567.1,227.8 L569.2,227.8 L571.3,227.9 L573.4,227.9 L575.6,228.0 L577.7,228.0 L579.8,228.0 L581.9,228.1 L584.0,228.1 L586.1,228.2 L588.3,228.2 L590.4,228.3 L592.5,228.3" stroke="#8660AE" stroke-width="2.3" fill="none" stroke-linejoin="round"/>
<path d="M340.6,206.6 L342.7,206.9 L344.8,207.1 L347.0,207.3 L349.1,207.6 L351.2,207.8 L353.3,208.0 L355.4,208.3 L357.5,208.5 L359.7,208.7 L361.8,208.9 L363.9,209.2 L366.0,209.4 L368.1,209.6 L370.2,209.8 L372.4,210.0 L374.5,210.2 L376.6,210.4 L378.7,210.6 L380.8,210.8 L382.9,211.1 L385.1,211.3 L387.2,211.5 L389.3,211.7 L391.4,211.8 L393.5,212.0 L395.6,212.2 L397.8,212.4 L399.9,212.6 L402.0,212.8 L404.1,213.0 L406.2,213.2 L408.3,213.4 L410.5,213.5 L412.6,213.7 L414.7,213.9 L416.8,214.1 L418.9,214.3 L421.0,214.4 L423.2,214.6 L425.3,214.8 L427.4,214.9 L429.5,215.1 L431.6,215.3 L433.7,215.4 L435.9,215.6 L438.0,215.8 L440.1,215.9 L442.2,216.1 L444.3,216.3 L446.4,216.4 L448.6,216.6 L450.7,216.7 L452.8,216.9 L454.9,217.0 L457.0,217.2 L459.1,217.3 L461.3,217.5 L463.4,217.6 L465.5,217.8 L467.6,217.9 L469.7,218.1 L471.8,218.2 L474.0,218.4 L476.1,218.5 L478.2,218.6 L480.3,218.8 L482.4,218.9 L484.5,219.1 L486.7,219.2 L488.8,219.3 L490.9,219.5 L493.0,219.6 L495.1,219.7 L497.2,219.9 L499.4,220.0 L501.5,220.1 L503.6,220.3 L505.7,220.4 L507.8,220.5 L509.9,220.6 L512.1,220.8 L514.2,220.9 L516.3,221.0 L518.4,221.1 L520.5,221.3 L522.6,221.4 L524.8,221.5 L526.9,221.6 L529.0,221.8 L531.1,221.9 L533.2,222.0 L535.3,222.1 L537.5,222.2 L539.6,222.3 L541.7,222.5 L543.8,222.6 L545.9,222.7 L548.0,222.8 L550.2,222.9 L552.3,223.0 L554.4,223.1 L556.5,223.2 L558.6,223.3 L560.7,223.4 L562.9,223.6 L565.0,223.7 L567.1,223.8 L569.2,223.9 L571.3,224.0 L573.4,224.1 L575.6,224.2 L577.7,224.3 L579.8,224.4 L581.9,224.5 L584.0,224.6 L586.1,224.7 L588.3,224.8 L590.4,224.9 L592.5,225.0" stroke="#8DB842" stroke-width="2.3" fill="none" stroke-linejoin="round"/>
<path d="M340.6,178.8 L342.7,179.4 L344.8,180.0 L347.0,180.6 L349.1,181.2 L351.2,181.7 L353.3,182.3 L355.4,182.9 L357.5,183.4 L359.7,184.0 L361.8,184.5 L363.9,185.0 L366.0,185.6 L368.1,186.1 L370.2,186.6 L372.4,187.1 L374.5,187.6 L376.6,188.1 L378.7,188.6 L380.8,189.1 L382.9,189.6 L385.1,190.1 L387.2,190.6 L389.3,191.0 L391.4,191.5 L393.5,191.9 L395.6,192.4 L397.8,192.8 L399.9,193.3 L402.0,193.7 L404.1,194.2 L406.2,194.6 L408.3,195.0 L410.5,195.4 L412.6,195.9 L414.7,196.3 L416.8,196.7 L418.9,197.1 L421.0,197.5 L423.2,197.9 L425.3,198.3 L427.4,198.7 L429.5,199.1 L431.6,199.4 L433.7,199.8 L435.9,200.2 L438.0,200.6 L440.1,200.9 L442.2,201.3 L444.3,201.7 L446.4,202.0 L448.6,202.4 L450.7,202.7 L452.8,203.1 L454.9,203.4 L457.0,203.8 L459.1,204.1 L461.3,204.4 L463.4,204.8 L465.5,205.1 L467.6,205.4 L469.7,205.7 L471.8,206.1 L474.0,206.4 L476.1,206.7 L478.2,207.0 L480.3,207.3 L482.4,207.6 L484.5,207.9 L486.7,208.2 L488.8,208.5 L490.9,208.8 L493.0,209.1 L495.1,209.4 L497.2,209.7 L499.4,210.0 L501.5,210.3 L503.6,210.6 L505.7,210.8 L507.8,211.1 L509.9,211.4 L512.1,211.7 L514.2,211.9 L516.3,212.2 L518.4,212.5 L520.5,212.7 L522.6,213.0 L524.8,213.3 L526.9,213.5 L529.0,213.8 L531.1,214.0 L533.2,214.3 L535.3,214.5 L537.5,214.8 L539.6,215.0 L541.7,215.3 L543.8,215.5 L545.9,215.7 L548.0,216.0 L550.2,216.2 L552.3,216.4 L554.4,216.7 L556.5,216.9 L558.6,217.1 L560.7,217.4 L562.9,217.6 L565.0,217.8 L567.1,218.0 L569.2,218.3 L571.3,218.5 L573.4,218.7 L575.6,218.9 L577.7,219.1 L579.8,219.3 L581.9,219.6 L584.0,219.8 L586.1,220.0 L588.3,220.2 L590.4,220.4 L592.5,220.6" stroke="#3D78C4" stroke-width="2.3" fill="none" stroke-linejoin="round"/>
<path d="M340.6,155.0 L342.7,156.1 L344.8,157.1 L347.0,158.0 L349.1,159.0 L351.2,160.0 L353.3,160.9 L355.4,161.9 L357.5,162.8 L359.7,163.7 L361.8,164.6 L363.9,165.5 L366.0,166.3 L368.1,167.2 L370.2,168.0 L372.4,168.8 L374.5,169.7 L376.6,170.5 L378.7,171.3 L380.8,172.0 L382.9,172.8 L385.1,173.6 L387.2,174.3 L389.3,175.1 L391.4,175.8 L393.5,176.5 L395.6,177.3 L397.8,178.0 L399.9,178.7 L402.0,179.3 L404.1,180.0 L406.2,180.7 L408.3,181.4 L410.5,182.0 L412.6,182.6 L414.7,183.3 L416.8,183.9 L418.9,184.5 L421.0,185.2 L423.2,185.8 L425.3,186.4 L427.4,187.0 L429.5,187.5 L431.6,188.1 L433.7,188.7 L435.9,189.3 L438.0,189.8 L440.1,190.4 L442.2,190.9 L444.3,191.5 L446.4,192.0 L448.6,192.5 L450.7,193.0 L452.8,193.6 L454.9,194.1 L457.0,194.6 L459.1,195.1 L461.3,195.6 L463.4,196.0 L465.5,196.5 L467.6,197.0 L469.7,197.5 L471.8,198.0 L474.0,198.4 L476.1,198.9 L478.2,199.3 L480.3,199.8 L482.4,200.2 L484.5,200.7 L486.7,201.1 L488.8,201.5 L490.9,202.0 L493.0,202.4 L495.1,202.8 L497.2,203.2 L499.4,203.6 L501.5,204.0 L503.6,204.4 L505.7,204.8 L507.8,205.2 L509.9,205.6 L512.1,206.0 L514.2,206.4 L516.3,206.8 L518.4,207.1 L520.5,207.5 L522.6,207.9 L524.8,208.2 L526.9,208.6 L529.0,209.0 L531.1,209.3 L533.2,209.7 L535.3,210.0 L537.5,210.4 L539.6,210.7 L541.7,211.0 L543.8,211.4 L545.9,211.7 L548.0,212.0 L550.2,212.4 L552.3,212.7 L554.4,213.0 L556.5,213.3 L558.6,213.7 L560.7,214.0 L562.9,214.3 L565.0,214.6 L567.1,214.9 L569.2,215.2 L571.3,215.5 L573.4,215.8 L575.6,216.1 L577.7,216.4 L579.8,216.7 L581.9,217.0 L584.0,217.2 L586.1,217.5 L588.3,217.8 L590.4,218.1 L592.5,218.4" stroke="#D4742C" stroke-width="2.3" fill="none" stroke-linejoin="round"/>
<path d="M340.6,101.9 L342.7,104.1 L344.8,106.2 L347.0,108.3 L349.1,110.4 L351.2,112.4 L353.3,114.3 L355.4,116.3 L357.5,118.1 L359.7,120.0 L361.8,121.8 L363.9,123.6 L366.0,125.3 L368.1,127.0 L370.2,128.7 L372.4,130.3 L374.5,131.9 L376.6,133.5 L378.7,135.1 L380.8,136.6 L382.9,138.1 L385.1,139.6 L387.2,141.0 L389.3,142.4 L391.4,143.8 L393.5,145.2 L395.6,146.5 L397.8,147.9 L399.9,149.2 L402.0,150.4 L404.1,151.7 L406.2,152.9 L408.3,154.2 L410.5,155.4 L412.6,156.5 L414.7,157.7 L416.8,158.8 L418.9,160.0 L421.0,161.1 L423.2,162.2 L425.3,163.2 L427.4,164.3 L429.5,165.3 L431.6,166.3 L433.7,167.4 L435.9,168.4 L438.0,169.3 L440.1,170.3 L442.2,171.3 L444.3,172.2 L446.4,173.1 L448.6,174.0 L450.7,174.9 L452.8,175.8 L454.9,176.7 L457.0,177.6 L459.1,178.4 L461.3,179.2 L463.4,180.1 L465.5,180.9 L467.6,181.7 L469.7,182.5 L471.8,183.3 L474.0,184.1 L476.1,184.8 L478.2,185.6 L480.3,186.3 L482.4,187.1 L484.5,187.8 L486.7,188.5 L488.8,189.2 L490.9,189.9 L493.0,190.6 L495.1,191.3 L497.2,192.0 L499.4,192.6 L501.5,193.3 L503.6,193.9 L505.7,194.6 L507.8,195.2 L509.9,195.8 L512.1,196.5 L514.2,197.1 L516.3,197.7 L518.4,198.3 L520.5,198.9 L522.6,199.5 L524.8,200.0 L526.9,200.6 L529.0,201.2 L531.1,201.7 L533.2,202.3 L535.3,202.8 L537.5,203.4 L539.6,203.9 L541.7,204.4 L543.8,205.0 L545.9,205.5 L548.0,206.0 L550.2,206.5 L552.3,207.0 L554.4,207.5 L556.5,208.0 L558.6,208.5 L560.7,209.0 L562.9,209.5 L565.0,209.9 L567.1,210.4 L569.2,210.9 L571.3,211.3 L573.4,211.8 L575.6,212.2 L577.7,212.7 L579.8,213.1 L581.9,213.5 L584.0,214.0 L586.1,214.4 L588.3,214.8 L590.4,215.2 L592.5,215.7" stroke="#5E4580" stroke-width="2.3" fill="none" stroke-linejoin="round"/>
<path d="M340.6,46.7 L342.7,50.4 L344.8,54.0 L347.0,57.6 L349.1,61.0 L351.2,64.4 L353.3,67.6 L355.4,70.8 L357.5,73.9 L359.7,76.9 L361.8,79.8 L363.9,82.7 L366.0,85.5 L368.1,88.2 L370.2,90.8 L372.4,93.4 L374.5,96.0 L376.6,98.4 L378.7,100.8 L380.8,103.2 L382.9,105.5 L385.1,107.8 L387.2,110.0 L389.3,112.1 L391.4,114.2 L393.5,116.3 L395.6,118.3 L397.8,120.3 L399.9,122.3 L402.0,124.2 L404.1,126.0 L406.2,127.9 L408.3,129.7 L410.5,131.4 L412.6,133.1 L414.7,134.8 L416.8,136.5 L418.9,138.1 L421.0,139.7 L423.2,141.3 L425.3,142.8 L427.4,144.3 L429.5,145.8 L431.6,147.2 L433.7,148.7 L435.9,150.1 L438.0,151.5 L440.1,152.8 L442.2,154.2 L444.3,155.5 L446.4,156.8 L448.6,158.0 L450.7,159.3 L452.8,160.5 L454.9,161.7 L457.0,162.9 L459.1,164.1 L461.3,165.2 L463.4,166.3 L465.5,167.4 L467.6,168.5 L469.7,169.6 L471.8,170.7 L474.0,171.7 L476.1,172.8 L478.2,173.8 L480.3,174.8 L482.4,175.8 L484.5,176.7 L486.7,177.7 L488.8,178.6 L490.9,179.6 L493.0,180.5 L495.1,181.4 L497.2,182.3 L499.4,183.2 L501.5,184.0 L503.6,184.9 L505.7,185.7 L507.8,186.6 L509.9,187.4 L512.1,188.2 L514.2,189.0 L516.3,189.8 L518.4,190.6 L520.5,191.3 L522.6,192.1 L524.8,192.8 L526.9,193.6 L529.0,194.3 L531.1,195.0 L533.2,195.7 L535.3,196.4 L537.5,197.1 L539.6,197.8 L541.7,198.5 L543.8,199.2 L545.9,199.8 L548.0,200.5 L550.2,201.1 L552.3,201.8 L554.4,202.4 L556.5,203.0 L558.6,203.6 L560.7,204.3 L562.9,204.9 L565.0,205.5 L567.1,206.0 L569.2,206.6 L571.3,207.2 L573.4,207.8 L575.6,208.3 L577.7,208.9 L579.8,209.4 L581.9,210.0 L584.0,210.5 L586.1,211.0 L588.3,211.6 L590.4,212.1 L592.5,212.6" stroke="#76963A" stroke-width="2.3" fill="none" stroke-linejoin="round"/>
<path d="M360.0,2.6 L361.8,7.2 L363.9,12.5 L366.0,17.7 L368.1,22.6 L370.2,27.4 L372.4,32.1 L374.5,36.6 L376.6,40.9 L378.7,45.2 L380.8,49.3 L382.9,53.2 L385.1,57.1 L387.2,60.8 L389.3,64.5 L391.4,68.0 L393.5,71.4 L395.6,74.7 L397.8,78.0 L399.9,81.2 L402.0,84.2 L404.1,87.2 L406.2,90.1 L408.3,93.0 L410.5,95.8 L412.6,98.5 L414.7,101.1 L416.8,103.7 L418.9,106.2 L421.0,108.6 L423.2,111.0 L425.3,113.4 L427.4,115.6 L429.5,117.9 L431.6,120.1 L433.7,122.2 L435.9,124.3 L438.0,126.3 L440.1,128.3 L442.2,130.3 L444.3,132.2 L446.4,134.1 L448.6,135.9 L450.7,137.7 L452.8,139.5 L454.9,141.2 L457.0,142.9 L459.1,144.6 L461.3,146.2 L463.4,147.8 L465.5,149.4 L467.6,150.9 L469.7,152.4 L471.8,153.9 L474.0,155.4 L476.1,156.8 L478.2,158.2 L480.3,159.6 L482.4,160.9 L484.5,162.3 L486.7,163.6 L488.8,164.8 L490.9,166.1 L493.0,167.4 L495.1,168.6 L497.2,169.8 L499.4,171.0 L501.5,172.1 L503.6,173.3 L505.7,174.4 L507.8,175.5 L509.9,176.6 L512.1,177.7 L514.2,178.7 L516.3,179.8 L518.4,180.8 L520.5,181.8 L522.6,182.8 L524.8,183.8 L526.9,184.7 L529.0,185.7 L531.1,186.6 L533.2,187.5 L535.3,188.4 L537.5,189.3 L539.6,190.2 L541.7,191.1 L543.8,191.9 L545.9,192.8 L548.0,193.6 L550.2,194.4 L552.3,195.3 L554.4,196.1 L556.5,196.8 L558.6,197.6 L560.7,198.4 L562.9,199.2 L565.0,199.9 L567.1,200.6 L569.2,201.4 L571.3,202.1 L573.4,202.8 L575.6,203.5 L577.7,204.2 L579.8,204.9 L581.9,205.6 L584.0,206.2 L586.1,206.9 L588.3,207.5 L590.4,208.2 L592.5,208.8" stroke="#9B3433" stroke-width="2.3" fill="none" stroke-linejoin="round"/>
<path d="M398.9,2.6 L399.9,5.3 L402.0,11.0 L404.1,16.5 L406.2,21.8 L408.3,26.9 L410.5,31.8 L412.6,36.6 L414.7,41.2 L416.8,45.7 L418.9,50.0 L421.0,54.2 L423.2,58.2 L425.3,62.2 L427.4,66.0 L429.5,69.7 L431.6,73.3 L433.7,76.8 L435.9,80.2 L438.0,83.5 L440.1,86.7 L442.2,89.8 L444.3,92.8 L446.4,95.8 L448.6,98.7 L450.7,101.5 L452.8,104.2 L454.9,106.9 L457.0,109.5 L459.1,112.0 L461.3,114.5 L463.4,116.9 L465.5,119.3 L467.6,121.6 L469.7,123.8 L471.8,126.0 L474.0,128.2 L476.1,130.3 L478.2,132.3 L480.3,134.3 L482.4,136.3 L484.5,138.2 L486.7,140.1 L488.8,141.9 L490.9,143.7 L493.0,145.5 L495.1,147.2 L497.2,148.9 L499.4,150.6 L501.5,152.2 L503.6,153.8 L505.7,155.4 L507.8,156.9 L509.9,158.5 L512.1,159.9 L514.2,161.4 L516.3,162.8 L518.4,164.2 L520.5,165.6 L522.6,166.9 L524.8,168.3 L526.9,169.6 L529.0,170.9 L531.1,172.1 L533.2,173.4 L535.3,174.6 L537.5,175.8 L539.6,176.9 L541.7,178.1 L543.8,179.2 L545.9,180.4 L548.0,181.5 L550.2,182.5 L552.3,183.6 L554.4,184.7 L556.5,185.7 L558.6,186.7 L560.7,187.7 L562.9,188.7 L565.0,189.7 L567.1,190.6 L569.2,191.6 L571.3,192.5 L573.4,193.4 L575.6,194.3 L577.7,195.2 L579.8,196.1 L581.9,196.9 L584.0,197.8 L586.1,198.6 L588.3,199.4 L590.4,200.3 L592.5,201.1" stroke="#2F5E9B" stroke-width="2.3" fill="none" stroke-linejoin="round"/>
<path d="M340.6,214.0 342.0,214.1 343.5,214.2 344.9,214.3 346.4,214.5 347.9,214.6 349.4,214.7 350.9,214.8 352.4,214.9 353.2,215.0 M353.2,215.0 354.4,215.1 355.9,215.2 357.4,215.4 358.9,215.5 360.4,215.6 361.8,215.7 363.3,215.8 364.8,216.0 365.8,216.0 M365.8,216.0 367.2,216.1 368.7,216.3 370.1,216.4 371.6,216.5 373.1,216.6 374.6,216.7 376.1,216.8 377.6,216.9 378.4,216.9 M378.4,216.9 379.6,217.0 381.1,217.0 382.6,217.1 384.1,217.2 385.6,217.2 387.1,217.3 388.6,217.3 390.0,217.4 391.0,217.4 M391.0,217.4 392.4,217.4 393.9,217.4 395.4,217.4 396.9,217.4 398.4,217.4 399.9,217.4 401.3,217.3 402.8,217.3 403.6,217.2 M403.6,217.2 404.9,217.2 406.4,217.1 407.9,217.0 409.4,216.9 410.8,216.8 412.3,216.6 413.8,216.5 415.3,216.3 416.2,216.2 M416.2,216.2 417.6,216.0 419.1,215.8 420.6,215.6 422.1,215.3 423.5,215.1 425.0,214.8 426.4,214.5 427.9,214.2 428.8,214.0 M428.8,214.0 430.2,213.7 431.6,213.3 433.1,212.9 434.5,212.5 435.9,212.1 437.4,211.7 438.8,211.2 440.2,210.7 441.4,210.4 M441.4,210.4 443.0,209.8 444.7,209.1 446.3,208.5 448.0,207.8 449.6,207.1 451.3,206.4 452.9,205.6 454.0,205.1 M454.0,205.1 455.5,204.3 457.1,203.5 458.7,202.7 460.3,201.8 461.8,200.9 463.3,200.0 464.9,199.1 466.4,198.1 466.6,198.0 M466.6,198.0 467.9,197.1 469.4,196.1 470.8,195.1 472.3,194.1 473.7,193.0 475.2,192.0 476.6,190.9 478.0,189.8 479.1,188.8 M479.1,188.8 480.7,187.5 482.3,186.2 483.9,184.8 485.4,183.4 487.0,182.0 488.5,180.6 490.0,179.1 491.5,177.7 491.7,177.4 M491.7,177.4 493.3,175.8 495.0,174.0 496.6,172.3 498.2,170.5 499.8,168.7 501.3,166.9 502.8,165.1 504.3,163.2 504.3,163.2 M504.3,163.2 506.0,161.1 507.6,159.0 509.2,156.8 510.7,154.7 512.3,152.5 513.8,150.3 515.2,148.0 516.7,145.8 516.9,145.3 M516.9,145.3 518.5,142.7 520.2,139.9 521.8,137.1 523.4,134.2 524.9,131.3 526.4,128.4 527.9,125.5 529.3,122.5 529.5,122.1 M529.5,122.1 531.2,118.5 532.9,114.7 534.5,110.8 536.0,107.0 537.6,103.1 539.0,99.2 540.4,95.3 541.8,91.3 542.1,90.3 M542.1,90.3 543.9,84.8 545.6,79.1 547.3,73.4 548.9,67.7 550.4,61.9 551.8,56.2 553.2,50.4 554.5,44.6 554.7,43.6 M554.7,43.6 555.8,38.5 556.9,33.2 558.0,28.0 559.0,22.7 560.0,17.5 561.0,12.2 562.0,6.9 562.9,1.7 563.1,0.5" stroke="#9AADD3" stroke-width="2.25" fill="none" stroke-dasharray="7.8 6.2" stroke-linejoin="round" clip-path="url(#cp)"/>
<path d="M340.6,217.0 342.1,217.3 343.7,217.6 345.3,217.9 346.9,218.2 348.5,218.4 350.1,218.7 351.8,218.9 353.2,219.0 M353.2,219.0 354.7,219.2 356.4,219.3 358.0,219.4 359.6,219.5 361.3,219.6 362.9,219.6 364.5,219.6 365.8,219.6 M365.8,219.6 367.3,219.6 368.9,219.6 370.5,219.5 372.2,219.4 373.8,219.3 375.4,219.1 377.1,219.0 378.4,218.8 M378.4,218.8 379.8,218.6 381.4,218.4 383.0,218.2 384.6,217.9 386.2,217.6 387.8,217.3 389.4,216.9 391.0,216.6 M391.0,216.6 392.3,216.3 393.9,215.9 395.5,215.4 397.1,215.0 398.6,214.5 400.2,214.0 401.8,213.5 403.3,213.0 403.6,212.9 M403.6,212.9 405.1,212.4 406.6,211.8 408.2,211.2 409.7,210.6 411.2,210.0 412.7,209.4 414.2,208.7 415.7,208.0 416.2,207.8 M416.2,207.8 417.4,207.2 418.9,206.5 420.4,205.8 421.8,205.0 423.3,204.3 424.7,203.5 426.1,202.7 427.5,201.9 428.8,201.2 M428.8,201.2 430.4,200.2 432.0,199.2 433.6,198.2 435.2,197.1 436.8,196.1 438.3,195.0 439.9,193.9 441.4,192.8 M441.4,192.8 442.8,191.8 444.3,190.7 445.8,189.5 447.3,188.3 448.7,187.1 450.2,185.9 451.7,184.6 453.1,183.4 454.0,182.6 M454.0,182.6 455.5,181.2 457.1,179.7 458.7,178.2 460.2,176.7 461.8,175.1 463.3,173.5 464.8,172.0 466.3,170.4 466.6,170.0 M466.6,170.0 468.1,168.3 469.7,166.5 471.3,164.6 472.8,162.7 474.4,160.8 475.9,158.9 477.4,156.9 478.9,155.0 479.1,154.6 M479.1,154.6 480.6,152.5 482.2,150.3 483.8,148.1 485.3,145.8 486.8,143.5 488.3,141.3 489.7,139.0 491.2,136.7 491.7,135.7 M491.7,135.7 493.3,133.2 494.9,130.3 496.5,127.5 498.1,124.6 499.6,121.7 501.0,118.8 502.4,115.8 503.8,112.8 504.3,111.5 M504.3,111.5 506.1,107.3 507.8,103.0 509.4,98.6 511.0,94.3 512.6,89.9 514.1,85.6 515.6,81.2 516.9,77.3 M516.9,77.3 518.7,71.9 520.4,66.4 522.1,60.9 523.7,55.5 525.3,49.9 526.8,44.4 528.3,38.9 529.5,33.8 M529.5,33.8 530.5,29.9 531.4,25.9 532.3,21.9 533.1,17.9 533.9,13.9 534.7,9.9 535.4,5.9 536.1,1.8 536.3,0.5" stroke="#F58634" stroke-width="2.25" fill="none" stroke-dasharray="7.8 6.2" stroke-linejoin="round" clip-path="url(#cp)"/>
<path d="M340.6,214.9 341.9,215.0 343.5,215.1 345.0,215.1 346.5,215.1 348.0,215.1 349.6,215.1 351.1,215.0 352.6,214.9 353.2,214.9 M353.2,214.9 354.6,214.8 356.1,214.6 357.6,214.4 359.2,214.2 360.7,214.0 362.2,213.7 363.7,213.4 365.1,213.1 365.8,213.0 M365.8,213.0 367.1,212.7 368.6,212.3 370.1,211.9 371.5,211.5 373.0,211.1 374.5,210.6 375.9,210.1 377.3,209.6 378.4,209.3 M378.4,209.3 380.0,208.7 381.6,208.0 383.3,207.4 384.9,206.7 386.5,206.0 388.2,205.3 389.8,204.5 391.0,204.0 M391.0,204.0 392.5,203.2 394.1,202.4 395.7,201.6 397.3,200.8 398.8,200.0 400.4,199.1 402.0,198.2 403.5,197.4 403.6,197.3 M403.6,197.3 405.0,196.5 406.6,195.6 408.1,194.7 409.6,193.7 411.1,192.8 412.6,191.8 414.1,190.9 415.6,189.9 416.2,189.5 M416.2,189.5 417.7,188.4 419.3,187.3 421.0,186.1 422.6,184.9 424.3,183.7 425.9,182.5 427.5,181.2 428.8,180.2 M428.8,180.2 430.3,179.0 431.8,177.7 433.4,176.4 434.9,175.1 436.5,173.8 438.0,172.4 439.5,171.1 441.0,169.7 441.4,169.3 M441.4,169.3 443.0,167.8 444.6,166.2 446.2,164.5 447.8,162.9 449.4,161.3 451.0,159.6 452.5,157.9 454.0,156.3 M454.0,156.3 455.6,154.5 457.2,152.6 458.8,150.6 460.4,148.6 462.0,146.7 463.6,144.7 465.1,142.6 466.6,140.7 M466.6,140.7 468.1,138.5 469.7,136.3 471.3,134.0 472.9,131.7 474.4,129.3 476.0,127.0 477.4,124.6 478.9,122.3 479.1,121.9 M479.1,121.9 480.7,119.2 482.4,116.4 484.0,113.5 485.6,110.6 487.2,107.7 488.7,104.8 490.2,101.8 491.6,98.9 491.7,98.6 M491.7,98.6 493.4,95.2 495.1,91.5 496.7,87.8 498.4,84.1 499.9,80.3 501.4,76.6 502.9,72.8 504.3,69.0 M504.3,69.0 506.1,64.2 507.8,59.2 509.5,54.1 511.1,49.0 512.7,43.9 514.1,38.8 515.5,33.7 516.9,28.5 516.9,28.3 M516.9,28.3 517.7,25.0 518.6,21.6 519.4,18.1 520.1,14.7 520.9,11.2 521.6,7.7 522.3,4.2 523.0,0.7 523.1,0.5" stroke="#2FA3C0" stroke-width="2.25" fill="none" stroke-dasharray="7.8 6.2" stroke-linejoin="round" clip-path="url(#cp)"/>
<path d="M340.6,199.2 342.1,198.4 343.6,197.6 345.2,196.8 346.8,196.0 348.3,195.2 349.9,194.4 351.5,193.6 353.1,192.8 353.2,192.8 M353.2,192.8 354.7,192.1 356.3,191.3 357.9,190.5 359.4,189.7 361.0,188.9 362.6,188.1 364.2,187.3 365.7,186.5 365.8,186.5 M365.8,186.5 367.3,185.7 368.8,184.8 370.4,183.9 371.9,183.1 373.4,182.2 374.9,181.3 376.4,180.3 377.9,179.4 378.4,179.1 M378.4,179.1 379.8,178.2 381.3,177.3 382.8,176.3 384.2,175.3 385.7,174.3 387.1,173.3 388.6,172.3 390.0,171.3 391.0,170.6 M391.0,170.6 392.5,169.4 394.1,168.2 395.7,167.0 397.3,165.8 398.8,164.6 400.4,163.4 401.9,162.1 403.5,160.9 403.6,160.8 M403.6,160.8 405.0,159.6 406.5,158.3 408.0,157.0 409.5,155.7 411.0,154.4 412.5,153.1 414.0,151.7 415.4,150.4 416.2,149.7 M416.2,149.7 417.7,148.3 419.3,146.7 420.9,145.2 422.4,143.6 424.0,142.1 425.5,140.5 427.0,138.9 428.6,137.3 428.8,137.1 M428.8,137.1 430.4,135.3 432.0,133.5 433.6,131.7 435.2,129.9 436.8,128.1 438.4,126.2 439.9,124.3 441.4,122.5 M441.4,122.5 443.0,120.5 444.6,118.5 446.2,116.4 447.8,114.2 449.4,112.1 450.9,110.0 452.4,107.8 454.0,105.6 M454.0,105.6 455.4,103.4 457.0,101.0 458.6,98.6 460.1,96.2 461.6,93.7 463.1,91.3 464.6,88.8 466.0,86.3 466.6,85.4 M466.6,85.4 468.2,82.5 469.9,79.4 471.5,76.2 473.1,73.1 474.7,69.9 476.3,66.8 477.8,63.6 479.1,60.6 M479.1,60.6 480.8,56.9 482.4,53.1 484.1,49.2 485.7,45.3 487.2,41.4 488.7,37.5 490.1,33.6 491.5,29.6 491.7,29.0 M491.7,29.0 492.9,25.6 494.1,22.1 495.2,18.5 496.3,14.9 497.4,11.3 498.5,7.7 499.5,4.1 500.5,0.5 500.5,0.5" stroke="#6A1FA0" stroke-width="2.25" fill="none" stroke-dasharray="7.8 6.2" stroke-linejoin="round" clip-path="url(#cp)"/>
<path d="M28.3,176.2 H587" stroke="#222" stroke-width="1.1"/>
<rect x="48.4" y="143.7" width="7.4" height="7.2" fill="none" stroke="#000" stroke-width="1.9"/>
<rect x="98.0" y="153.1" width="7.4" height="7.2" fill="none" stroke="#000" stroke-width="1.9"/>
<rect x="131.8" y="151.4" width="7.4" height="7.2" fill="none" stroke="#000" stroke-width="1.9"/>
<rect x="162.9" y="156.9" width="7.4" height="7.2" fill="none" stroke="#000" stroke-width="1.9"/>
<rect x="361.7" y="181.5" width="7.4" height="7.2" fill="none" stroke="#000" stroke-width="1.9"/>
<rect x="419.3" y="181.5" width="7.4" height="7.2" fill="none" stroke="#000" stroke-width="1.9"/>
<rect x="454.5" y="174.2" width="7.4" height="7.2" fill="none" stroke="#000" stroke-width="1.9"/>
<rect x="486.2" y="174.8" width="7.4" height="7.2" fill="none" stroke="#000" stroke-width="1.9"/>
<polygon points="128.5,57.9 130.6,63.5 136.5,63.7 131.8,67.4 133.4,73.1 128.5,69.8 123.6,73.1 125.2,67.4 120.5,63.7 126.4,63.5" fill="#000"/>
<polygon points="454.5,96.8 456.6,102.4 462.5,102.6 457.8,106.3 459.4,112.0 454.5,108.7 449.6,112.0 451.2,106.3 446.5,102.6 452.4,102.4" fill="#000"/>
<text x="110.5" y="13.9" font-size="9.0" font-weight="bold" fill="#2F5E9B" textLength="3.7" lengthAdjust="spacingAndGlyphs">1</text>
<text x="92.7" y="35.6" font-size="9.0" font-weight="bold" fill="#9B3433" textLength="4.9" lengthAdjust="spacingAndGlyphs">2</text>
<text x="75.8" y="58.5" font-size="9.0" font-weight="bold" fill="#76963A" textLength="5.0" lengthAdjust="spacingAndGlyphs">3</text>
<text x="62.9" y="79.4" font-size="9.0" font-weight="bold" fill="#3f3151" textLength="5.3" lengthAdjust="spacingAndGlyphs">4</text>
<text x="48.5" y="113.9" font-size="9.0" font-weight="bold" fill="#D4742C" textLength="5.0" lengthAdjust="spacingAndGlyphs">6</text>
<text x="42.4" y="138.2" font-size="9.0" font-weight="bold" fill="#3D78C4" textLength="5.0" lengthAdjust="spacingAndGlyphs">8</text>
<text x="37.9" y="171.4" font-size="9.0" font-weight="bold" fill="#77933c" textLength="9.1" lengthAdjust="spacingAndGlyphs">15</text>
<text x="34.4" y="206.2" font-size="9.0" font-weight="bold" fill="#5b3d85" textLength="9.1" lengthAdjust="spacingAndGlyphs">25</text>
<text x="133.9" y="27.0" font-size="9.0" font-weight="bold" fill="#6A1FA0" textLength="16.7" lengthAdjust="spacingAndGlyphs">36-7</text>
<text x="158.5" y="48.8" font-size="9.0" font-weight="bold" fill="#2FA3C0" textLength="16.7" lengthAdjust="spacingAndGlyphs">25-5</text>
<text x="195.0" y="78.0" font-size="9.0" font-weight="bold" fill="#e46c0a" textLength="16.8" lengthAdjust="spacingAndGlyphs">25-3</text>
<text x="221.0" y="100.2" font-size="9.0" font-weight="bold" fill="#8fa5d0" textLength="16.5" lengthAdjust="spacingAndGlyphs">25-1</text>
<text x="414.1" y="21.5" font-size="9.0" font-weight="bold" fill="#2F5E9B" textLength="3.8" lengthAdjust="spacingAndGlyphs">1</text>
<text x="389.5" y="56.4" font-size="9.0" font-weight="bold" fill="#9B3433" textLength="4.9" lengthAdjust="spacingAndGlyphs">2</text>
<text x="372.4" y="88.6" font-size="9.0" font-weight="bold" fill="#76963A" textLength="4.9" lengthAdjust="spacingAndGlyphs">3</text>
<text x="362.1" y="117.3" font-size="9.0" font-weight="bold" fill="#3f3151" textLength="5.0" lengthAdjust="spacingAndGlyphs">4</text>
<text x="355.8" y="159.2" font-size="9.0" font-weight="bold" fill="#D4742C" textLength="5.0" lengthAdjust="spacingAndGlyphs">6</text>
<text x="354.2" y="179.0" font-size="9.0" font-weight="bold" fill="#3D78C4" textLength="4.6" lengthAdjust="spacingAndGlyphs">8</text>
<text x="351.2" y="204.5" font-size="9.0" font-weight="bold" fill="#77933c" textLength="8.3" lengthAdjust="spacingAndGlyphs">15</text>
<text x="347.4" y="231.7" font-size="9.0" font-weight="bold" fill="#5b3d85" textLength="9.1" lengthAdjust="spacingAndGlyphs">25</text>
<text x="463.9" y="53.3" font-size="9.0" font-weight="bold" fill="#6A1FA0" textLength="16.7" lengthAdjust="spacingAndGlyphs">36-7</text>
<text x="482.1" y="76.5" font-size="9.0" font-weight="bold" fill="#2FA3C0" textLength="16.7" lengthAdjust="spacingAndGlyphs">25-5</text>
<text x="515.2" y="97.9" font-size="9.0" font-weight="bold" fill="#e46c0a" textLength="16.9" lengthAdjust="spacingAndGlyphs">25-3</text>
<text x="540.2" y="113.9" font-size="9.0" font-weight="bold" fill="#8fa5d0" textLength="16.6" lengthAdjust="spacingAndGlyphs">25-1</text>
<text x="288.2" y="68.3" font-size="8.3" fill="#000" textLength="29.4" lengthAdjust="spacingAndGlyphs">≈240Gy</text>
<text x="247.9" y="108.6" font-size="8.6" fill="#000" textLength="31.2" lengthAdjust="spacingAndGlyphs">200Gy ≈</text>
<text x="588.4" y="179.4" font-size="8.5" fill="#000" textLength="29.7" lengthAdjust="spacingAndGlyphs">≈130Gy</text>
<polygon points="37.1,282.8 287.3,282.8 287.3,304.4" fill="#7f7f7f"/><polygon points="37.1,282.8 287.3,304.4 37.1,304.4" fill="#000"/>
<polygon points="339.5,282.8 589,282.8 589,304" fill="#7f7f7f"/><polygon points="339.5,282.8 589,304 339.5,304" fill="#000"/>
<text x="9.3" y="292.3" font-size="8.9" font-weight="bold" fill="#000" textLength="9.1" lengthAdjust="spacingAndGlyphs">90</text>
<text x="18.2" y="295.7" font-size="12.8" font-weight="bold" fill="#000" textLength="7.7" lengthAdjust="spacingAndGlyphs">Y</text>
<text x="310.4" y="293.5" font-size="8.9" font-weight="bold" fill="#000" textLength="13.2" lengthAdjust="spacingAndGlyphs">125</text>
<text x="324" y="297.3" font-size="13" font-weight="bold" fill="#000" textLength="13.2" lengthAdjust="spacingAndGlyphs">Sn</text>
<text x="591.3" y="292.8" font-size="8.9" font-weight="bold" fill="#707070" textLength="13.4" lengthAdjust="spacingAndGlyphs">177</text>
<text x="605.2" y="296.3" font-size="12.6" font-weight="bold" fill="#777" textLength="12.6" lengthAdjust="spacingAndGlyphs">Lu</text>
<text x="126.4" y="327.3" font-size="11.6" font-weight="bold" fill="#000" textLength="25.9" lengthAdjust="spacingAndGlyphs">renal</text>
<text x="155.4" y="327.3" font-size="11.6" font-weight="bold" fill="#000" textLength="33.1" lengthAdjust="spacingAndGlyphs">cortex</text>
<text x="190.8" y="327.3" font-size="11.6" font-weight="bold" fill="#000" textLength="47.3" lengthAdjust="spacingAndGlyphs">absorbed</text>
<text x="240.8" y="327.3" font-size="11.6" font-weight="bold" fill="#000" textLength="39.5" lengthAdjust="spacingAndGlyphs">fraction</text>
<text x="283.4" y="327.3" font-size="11.6" font-weight="bold" fill="#000" textLength="17.0" lengthAdjust="spacingAndGlyphs">per</text>
<text x="303.1" y="327.3" font-size="11.6" font-weight="bold" fill="#000" textLength="64.0" lengthAdjust="spacingAndGlyphs">radionuclide</text>
<text x="368.6" y="327.3" font-size="11.6" font-weight="bold" fill="#000" textLength="90.2" lengthAdjust="spacingAndGlyphs">(BED=11Gy/cycle)</text>
<text transform="translate(9.5,270.6) rotate(-90)" font-size="10.4" font-weight="bold" fill="#000" textLength="33.5" lengthAdjust="spacingAndGlyphs">tumor</text>
<text transform="translate(9.5,234.5) rotate(-90)" font-size="10.4" font-weight="bold" fill="#000" textLength="38.4" lengthAdjust="spacingAndGlyphs">specific</text>
<text transform="translate(9.5,192.3) rotate(-90)" font-size="10.4" font-weight="bold" fill="#000" textLength="37.7" lengthAdjust="spacingAndGlyphs">activity</text>
<text transform="translate(9.5,151.6) rotate(-90)" font-size="10.4" font-weight="bold" fill="#000" textLength="27.6" lengthAdjust="spacingAndGlyphs">giving</text>
<text transform="translate(9.5,122.3) rotate(-90)" font-size="10.4" font-weight="bold" fill="#000" textLength="40.9" lengthAdjust="spacingAndGlyphs">TCP=0.9</text>
<text transform="translate(9.5,77.4) rotate(-90)" font-size="10.4" font-weight="bold" fill="#000" textLength="51.7" lengthAdjust="spacingAndGlyphs">[MBq/ml]</text>
</svg>
</body></html>
